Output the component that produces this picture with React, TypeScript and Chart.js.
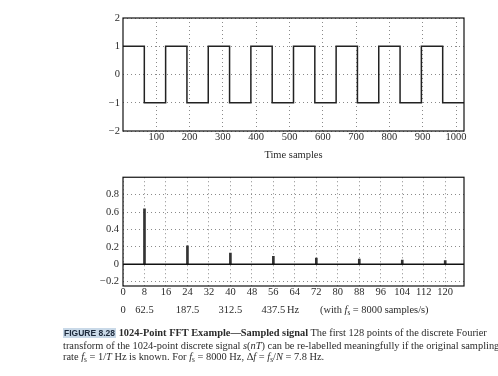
import React, { useEffect, useRef } from "react";
import { Chart, registerables } from "chart.js";

Chart.register(...registerables);

// ---------- data ----------
// Square wave (time domain): level held from each edge until the next one
const timeEdges = [0, 64, 128, 192, 256, 320, 384, 448, 512, 576, 640, 704, 768, 832, 896, 960, 1024];
const timeLevels = [1, -1, 1, -1, 1, -1, 1, -1, 1, -1, 1, -1, 1, -1, 1, -1, -1];
const timeTicks = [100, 200, 300, 400, 500, 600, 700, 800, 900, 1000];
const ampTicks = [-2, -1, 0, 1, 2];

// FFT magnitude (first 128 bins); only non-zero bins listed
const fftBins = [8, 24, 40, 56, 72, 88, 104, 120];
const fftMagnitudes = [0.637, 0.212, 0.128, 0.091, 0.071, 0.058, 0.049, 0.043];
const binTicks = [0, 8, 16, 24, 32, 40, 48, 56, 64, 72, 80, 88, 96, 104, 112, 120];
const magTicks = [-0.2, 0, 0.2, 0.4, 0.6, 0.8];
const freqTickBins = [0, 8, 24, 40, 56];
const freqTickLabels = ["0", "62.5", "187.5", "312.5", "437.5"];

const SERIF = "'Liberation Serif', 'Times New Roman', serif";
const TICK_FONT = { family: SERIF, size: 10.5, lineHeight: 1 };
const TEXT = "#2b2b2b";
const GRID = "#8a8a8a";

const minus = (s: string) => s.replace("-", "\u2212");

const framePlugin = {
  id: "frame",
  afterDatasetsDraw(chart: any) {
    const { ctx, chartArea } = chart;
    const { left, top, right, bottom } = chartArea;
    ctx.save();
    ctx.strokeStyle = "#111";
    ctx.lineWidth = 1.2;
    ctx.strokeRect(left, top, right - left, bottom - top);
    ctx.restore();
  },
};

function TimeChart() {
  const ref = useRef<HTMLCanvasElement | null>(null);
  useEffect(() => {
    if (!ref.current) return;
    const chart = new Chart(ref.current, {
      type: "line",
      data: {
        datasets: [
          {
            data: timeEdges.map((x, i) => ({ x, y: timeLevels[i] })),
            borderColor: "#222",
            borderWidth: 1.5,
            pointRadius: 0,
            stepped: true,
            fill: false,
          },
        ],
      },
      options: {
        responsive: false,
        animation: false,
        events: [],
        layout: { padding: { top: 18, right: 34, left: 0, bottom: 0 } },
        plugins: { legend: { display: false }, tooltip: { enabled: false } },
        scales: {
          x: {
            type: "linear",
            min: 0,
            max: 1024,
            afterBuildTicks: (s: any) => {
              s.ticks = timeTicks.map((v) => ({ value: v }));
            },
            afterFit: (s: any) => {
              s.height = 39;
            },
            ticks: {
              font: TICK_FONT,
              color: TEXT,
              padding: 1,
              maxRotation: 0,
              autoSkip: false,
              callback: (v: any) => String(v),
            },
            grid: { color: GRID, lineWidth: 1, drawTicks: false },
            border: { display: false, dash: [1, 3] },
            title: {
              display: true,
              text: "Time samples",
              color: TEXT,
              font: { family: SERIF, size: 10.5 },
              padding: { top: 0, bottom: 8 },
            },
          },
          y: {
            type: "linear",
            min: -2,
            max: 2,
            afterBuildTicks: (s: any) => {
              s.ticks = ampTicks.map((v) => ({ value: v }));
            },
            afterFit: (s: any) => {
              s.width = 123;
            },
            ticks: {
              font: TICK_FONT,
              color: TEXT,
              padding: 3,
              callback: (v: any) => minus(String(v)),
            },
            grid: { color: GRID, lineWidth: 1, drawTicks: false },
            border: { display: false, dash: [1, 3] },
          },
        },
      },
      plugins: [framePlugin],
    } as any);
    return () => chart.destroy();
  }, []);
  return (
    <canvas
      ref={ref}
      width={498}
      height={170}
      style={{ position: "absolute", left: 0, top: 0, width: 498, height: 170 }}
    />
  );
}

function FftChart() {
  const ref = useRef<HTMLCanvasElement | null>(null);
  useEffect(() => {
    if (!ref.current) return;
    const chart = new Chart(ref.current, {
      type: "bar",
      data: {
        datasets: [
          {
            type: "line",
            data: [
              { x: 0, y: 0 },
              { x: 127, y: 0 },
            ],
            borderColor: "#111",
            borderWidth: 1.6,
            pointRadius: 0,
            fill: false,
          },
          {
            type: "bar",
            data: fftBins.map((x, i) => ({ x, y: fftMagnitudes[i] })),
            backgroundColor: "#333",
            borderWidth: 0,
            barThickness: 2,
          },
        ],
      },
      options: {
        responsive: false,
        animation: false,
        events: [],
        layout: { padding: { top: 7, right: 34, left: 0, bottom: 0 } },
        plugins: { legend: { display: false }, tooltip: { enabled: false } },
        scales: {
          x: {
            type: "linear",
            min: 0,
            max: 127,
            offset: false,
            afterBuildTicks: (s: any) => {
              s.ticks = binTicks.map((v) => ({ value: v }));
            },
            afterFit: (s: any) => {
              s.height = 12;
            },
            ticks: { font: TICK_FONT, color: TEXT, padding: 1, maxRotation: 0, autoSkip: false },
            grid: { color: GRID, lineWidth: 1, drawTicks: false, offset: false },
            border: { display: false, dash: [1, 3] },
          },
          x2: {
            type: "linear",
            position: "bottom",
            min: 0,
            max: 127,
            offset: false,
            afterBuildTicks: (s: any) => {
              s.ticks = freqTickBins.map((v) => ({ value: v }));
            },
            afterFit: (s: any) => {
              s.height = 20;
            },
            ticks: {
              font: TICK_FONT,
              color: TEXT,
              padding: 6.5,
              maxRotation: 0,
              autoSkip: false,
              callback: (v: any) => freqTickLabels[freqTickBins.indexOf(Number(v))],
            },
            grid: { display: false, drawTicks: false },
            border: { display: false },
          },
          y: {
            type: "linear",
            min: -0.25,
            max: 1.0,
            afterBuildTicks: (s: any) => {
              s.ticks = magTicks.map((v) => ({ value: v }));
            },
            afterFit: (s: any) => {
              s.width = 123;
            },
            ticks: {
              font: TICK_FONT,
              color: TEXT,
              padding: 4,
              callback: (v: any) => minus(String(Math.round(Number(v) * 10) / 10)),
            },
            grid: { color: GRID, lineWidth: 1, drawTicks: false },
            border: { display: false, dash: [1, 3] },
          },
        },
      },
      plugins: [framePlugin],
    } as any);
    return () => chart.destroy();
  }, []);
  return (
    <canvas
      ref={ref}
      width={498}
      height={150}
      style={{ position: "absolute", left: 0, top: 168, width: 498, height: 150 }}
    />
  );
}

const sub: React.CSSProperties = { fontSize: "70%", verticalAlign: "-2px", lineHeight: 0 };
const Fs = () => (
  <span>
    <i>f</i>
    <span style={sub}>s</span>
  </span>
);

export default function App() {
  const line: React.CSSProperties = {
    position: "absolute",
    left: 63,
    whiteSpace: "nowrap",
    fontFamily: SERIF,
    fontSize: 10.4,
    lineHeight: "12px",
    color: TEXT,
  };
  return (
    <div
      style={{
        position: "absolute",
        left: 0,
        top: 0,
        width: 498,
        height: 376,
        overflow: "hidden",
        background: "#fff",
      }}
    >
      <TimeChart />
      <FftChart />
      <div style={{ ...line, left: 287, top: 304 }}>Hz</div>
      <div style={{ ...line, left: 320, top: 304 }}>
        (with <Fs /> = 8000 samples/s)
      </div>
      <div style={{ ...line, top: 327 }}>
        <span
          style={{
            fontFamily: "'Liberation Sans', 'DejaVu Sans', sans-serif",
            fontWeight: 900,
            fontSize: 8.5,
            background: "#c9d9e8",
            color: "#1d2a3c",
            padding: "0 1px",
          }}
        >
          FIGURE 8.28
        </span>{" "}
        <b>1024-Point FFT Example—Sampled signal</b> The first 128 points of the discrete Fourier
      </div>
      <div style={{ ...line, top: 340 }}>
        transform of the 1024-point discrete signal <i>s</i>(<i>nT</i>) can be re-labelled meaningfully if the original sampling
      </div>
      <div style={{ ...line, top: 351 }}>
        rate <Fs /> = 1/<i>T</i> Hz is known. For <Fs /> = 8000 Hz, Δ<i>f</i> = <Fs />/<i>N</i> = 7.8 Hz.
      </div>
    </div>
  );
}
